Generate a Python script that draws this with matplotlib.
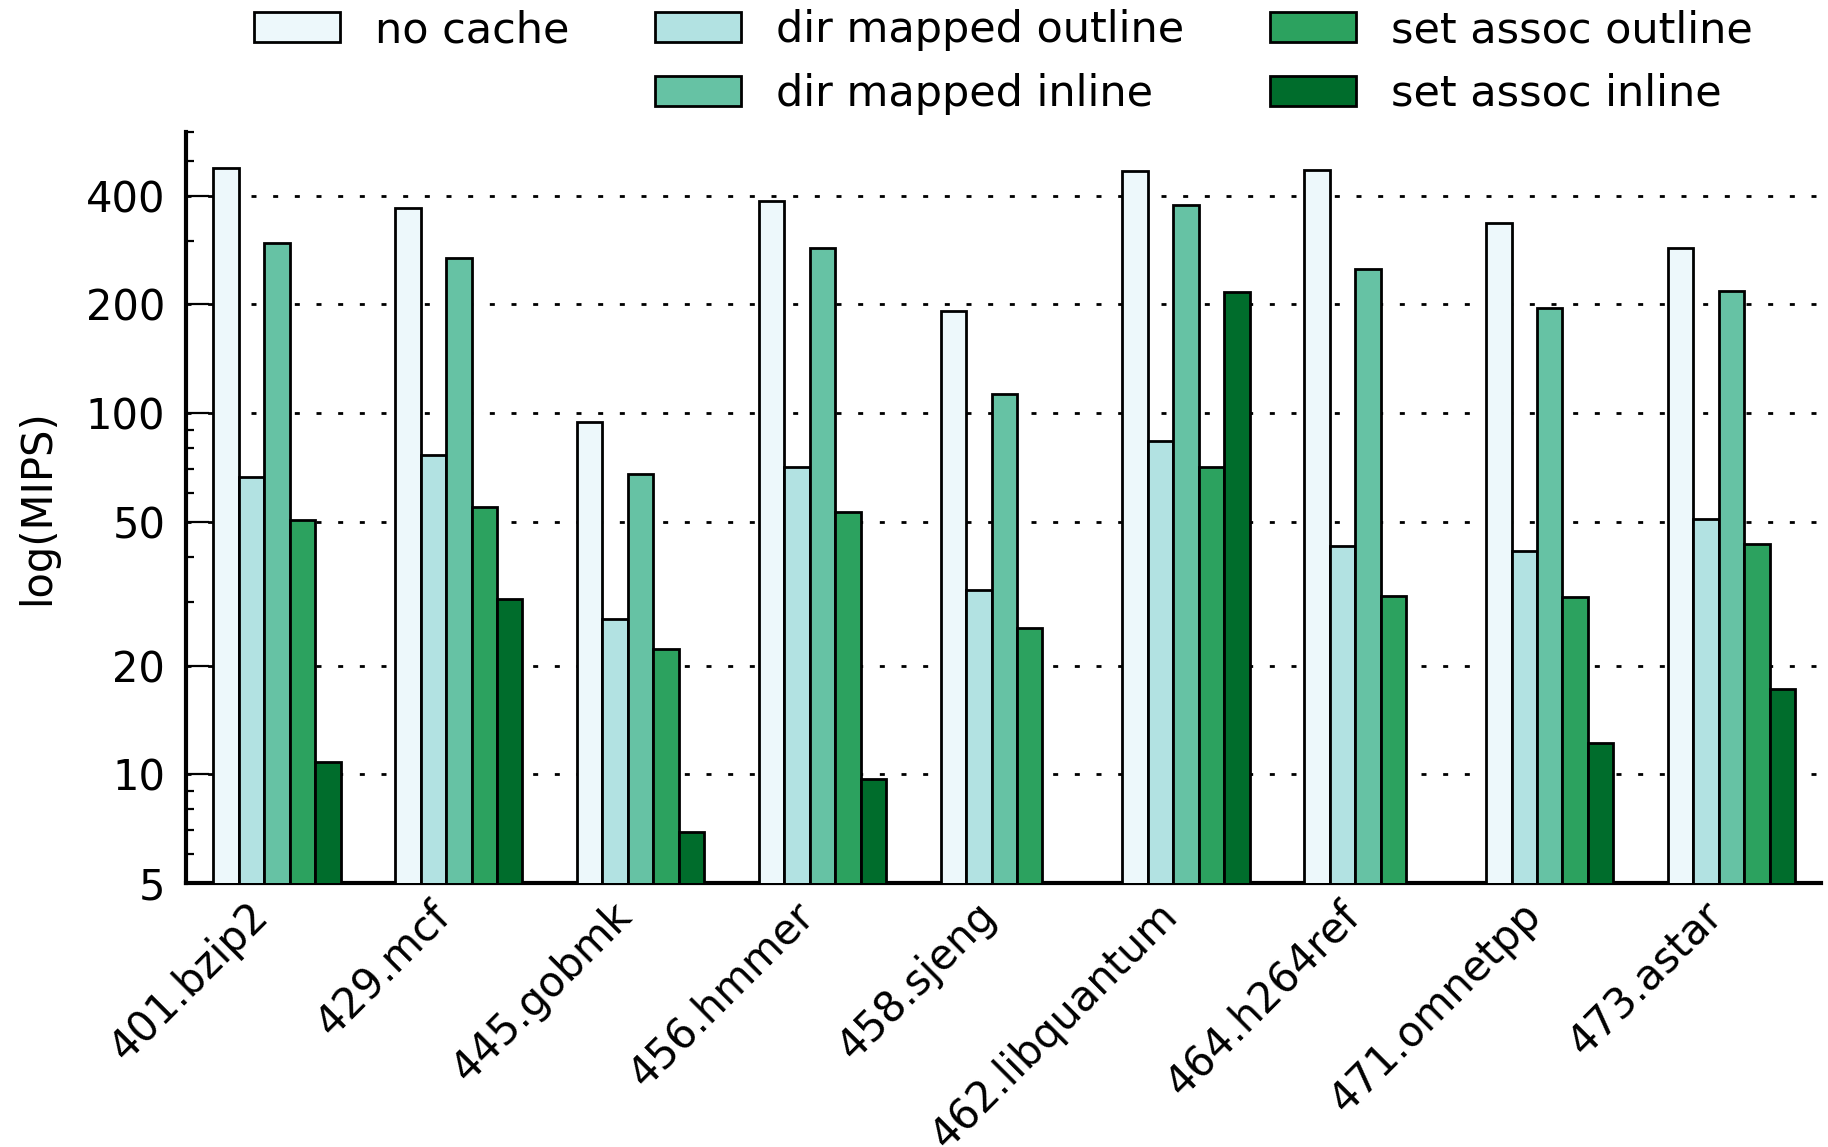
import numpy as np
import matplotlib
matplotlib.use("Agg")
import matplotlib.pyplot as plt
from matplotlib.patches import Rectangle
from matplotlib.ticker import FixedLocator, LogLocator, NullFormatter

benchmarks = ["401.bzip2", "429.mcf", "445.gobmk", "456.hmmer", "458.sjeng",
              "462.libquantum", "464.h264ref", "471.omnetpp", "473.astar"]

series_names = ["no cache", "dir mapped outline", "dir mapped inline",
                "set assoc outline", "set assoc inline"]

no_cache           = [478, 369, 94.2, 386, 192, 467, 471, 335, 287]
dir_mapped_outline = [66.5, 76.6, 26.9, 71.1, 32.4, 83.7, 42.9, 41.4, 50.9]
dir_mapped_inline  = [295, 268, 68.0, 287, 112.6, 377, 251, 195, 218]
set_assoc_outline  = [50.6, 54.8, 22.2, 53.2, 25.4, 71.1, 31.2, 31.0, 43.3]
set_assoc_inline   = [10.8, 30.5, 6.9, 9.7, np.nan, 216, np.nan, 12.2, 17.2]

colors = ["#edf8fb", "#b2e2e2", "#66c2a4", "#2ca25f", "#006d2c"]
yticks = [5, 10, 20, 50, 100, 200, 400]

plt.rcParams["font.family"] = ["DejaVu Sans"]
plt.rcParams["font.size"] = 15

fig = plt.figure(figsize=(9.14, 5.735), dpi=200)
ax = fig.add_axes([0.1018, 0.2302, 0.996 - 0.1018, 0.8849 - 0.2302])

values = [no_cache, dir_mapped_outline, dir_mapped_inline,
          set_assoc_outline, set_assoc_inline]
ind = np.arange(len(benchmarks))
width = 0.14
handles = []
for k, (vals, col, name) in enumerate(zip(values, colors, series_names)):
    vals = np.asarray(vals, dtype=float)
    ok = np.isfinite(vals)
    bars = ax.bar(ind[ok] + k * width, vals[ok], width, align="edge",
                  color=col, edgecolor="black", linewidth=1.0, label=name,
                  zorder=3)
    handles.append(bars)

ax.set_yscale("log")
ax.set_ylim(5, 600)
ax.set_xlim(-0.15, 8.84)

ax.yaxis.set_major_locator(FixedLocator(yticks))
ax.set_yticklabels([str(t) for t in yticks])
ax.yaxis.set_minor_locator(LogLocator(base=10, subs=np.arange(2, 10)))
ax.yaxis.set_minor_formatter(NullFormatter())
ax.tick_params(axis="y", which="major", direction="in", length=8.3,
               width=0.8, pad=7.5, labelsize=15)
ax.tick_params(axis="y", which="minor", direction="in", length=3, width=0.8)

ax.set_xticks(ind + 2.5 * width)
ax.set_xticklabels(benchmarks, rotation=45, ha="right")
ax.tick_params(axis="x", length=0, pad=4, labelsize=15)

for side in ("top", "right"):
    ax.spines[side].set_visible(False)
for side in ("left", "bottom"):
    ax.spines[side].set_linewidth(1.5)

ax.set_axisbelow(True)
ax.yaxis.grid(True, which="major", color="black", linewidth=1.0,
              linestyle=(0, (1.8, 6.0)))
ax.xaxis.grid(False)

ax.set_ylabel("log(MIPS)", labelpad=10)

blank = Rectangle((0, 0), 1, 1, fill=False, edgecolor="none", visible=False)
leg_handles = [handles[0], blank, handles[1], handles[2], handles[3], handles[4]]
leg_labels = [series_names[0], "", series_names[1], series_names[2],
              series_names[3], series_names[4]]
ax.legend(leg_handles, leg_labels, ncol=3, loc="lower center",
          bbox_to_anchor=(0.5, 1.0), frameon=False, fontsize=15.5,
          borderaxespad=0.0, columnspacing=2.0)

fig.savefig("out.png", dpi=200)
